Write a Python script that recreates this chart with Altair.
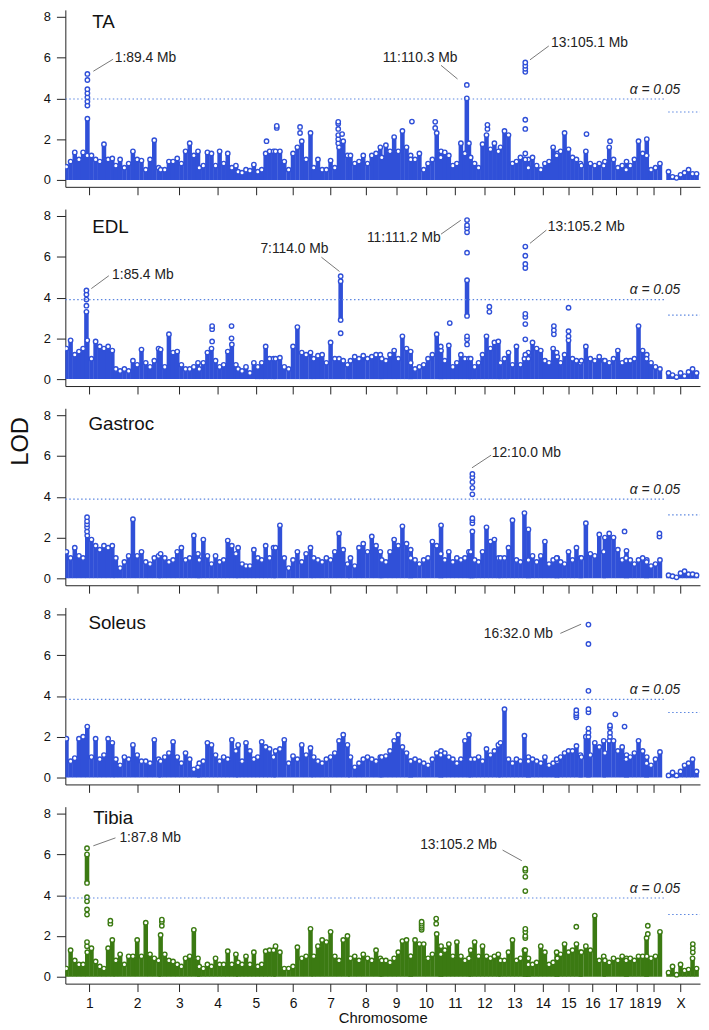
import altair as alt
import pandas as pd

# ---------------- genome layout ----------------
CHROMS = [str(i) for i in range(1, 20)] + ["X"]
CHROM_LEN_MB = [195, 182, 160, 157, 152, 150, 145, 129, 125, 131,
                122, 120, 121, 125, 104, 98, 95, 91, 61, 171]
CHROM_START = [1.5, 205.1, 389.6, 548.8, 708.9, 863.1, 1020.4, 1171.8, 1300.8, 1420.0,
               1543.9, 1667.1, 1790.0, 1904.9, 2021.3, 2123.3, 2220.1, 2307.7, 2391.9, 2449.3]
GENOME_END = 2615
EDGE_MB = 3   # first / last sampled position inside each chromosome

# ---------------- LOD profiles: one list per chromosome, sampled evenly along it ----------------
TA_LOD = [
    [0.65, 0.9, 1.35, 1.0, 1.35, 1.2, 1.2, 1.0, 0.9, 1.75, 1.0, 1.05],
    [0.7, 1.0, 0.6, 0.8, 1.4, 1.0, 0.95, 0.5, 1.0, 1.95, 0.6],
    [0.5, 0.5, 0.9, 0.9, 1.05, 0.8, 1.4, 1.8, 1.2, 1.4],
    [0.6, 0.7, 1.35, 1.3, 0.7, 1.4, 0.8, 1.3, 0.6, 0.7],
    [0.4, 0.35, 0.5, 0.45, 0.75, 0.4, 0.5, 1.3, 1.4, 1.4],
    [1.4, 1.4, 0.9, 0.5, 1.3, 1.6, 1.9, 1.0, 2.3],
    [0.6, 1.0, 0.5, 0.5, 0.95, 0.6, 1.6, 1.9, 1.2],
    [1.2, 0.8, 0.9, 1.2, 0.8, 1.2, 1.3, 1.6],
    [1.1, 1.7, 1.4, 2.1, 1.4, 2.4, 1.6, 1.2],
    [1.0, 1.0, 1.3, 0.5, 0.8, 1.0, 2.3, 1.4],
    [1.1, 1.35, 1.2, 0.7, 0.8, 1.8, 1.3, 1.8],
    [1.1, 0.8, 0.6, 1.75, 2.2, 1.5, 1.8, 1.4],
    [1.6, 2.4, 2.2, 0.8, 0.9, 1.1, 1.0, 1.0],
    [0.6, 1.1, 0.7, 0.5, 0.8, 0.9, 1.6, 1.3],
    [1.2, 1.4, 2.3, 1.5, 1.1, 1.0, 0.8],
    [0.7, 1.4, 0.8, 0.7, 0.8, 0.7],
    [0.9, 1.6, 1.0, 0.6, 0.7, 0.9],
    [0.5, 0.7, 1.0, 1.9, 1.3, 2.0],
    [1.2, 0.5, 0.6, 0.8],
    [None, None, 0.4, 0.15, 0.1, 0.25, 0.35, 0.5, 0.3, 0.3, None],
]
TA_DENSE = [("1", 89.4, 0.0, 3.0), ("11", 110.3, 0.0, 4.0), ("13", 105.1, 0.0, 1.0)]
TA_CIRCLES = [
    ("1", 89.4, [3.65, 3.85, 4.05, 4.25, 4.45, 4.9, 5.2]),
    ("5", 120, [1.9]), ("6", 8, [2.55, 2.65]), ("6", 104, [2.3, 2.6]),
    ("7", 104, [1.8, 2.0, 2.2, 2.5, 2.75, 2.85]), ("7", 120, [2.25]),
    ("10", 8, [2.86]), ("10", 104, [2.55, 2.85]),
    ("11", 110.3, [4.66]), ("12", 72, [2.5, 2.7]),
    ("13", 105.1, [1.3, 2.5, 2.95, 5.3, 5.45, 5.6, 5.76]),
    ("16", 24, [2.25]), ("17", 24, [1.9]),
]

EDL_LOD = [
    [1.5, 1.9, 1.2, 1.35, 1.5, 1.9, 1.0, 1.85, 1.6, 1.5, 1.6, 1.4],
    [0.5, 0.4, 0.5, 0.4, 0.9, 0.7, 1.45, 0.8, 0.6, 0.9, 1.5],
    [1.45, 0.6, 2.2, 1.3, 1.35, 0.7, 0.5, 0.5, 0.6, 0.8],
    [0.5, 0.8, 1.3, 1.5, 0.9, 0.6, 0.7, 1.35, 1.7, 0.7],
    [0.5, 0.4, 0.6, 0.3, 0.8, 0.6, 0.8, 1.6, 1.0, 1.0],
    [1.0, 1.05, 0.6, 0.5, 1.6, 2.55, 1.3, 1.2, 1.3],
    [1.0, 1.15, 1.2, 0.8, 1.8, 1.0, 1.0, 0.9, 0.7],
    [0.9, 1.1, 1.0, 1.15, 1.0, 1.1, 1.2, 1.2],
    [1.0, 0.9, 1.2, 1.4, 1.0, 2.1, 1.5, 1.35],
    [0.8, 0.5, 0.6, 0.7, 1.0, 1.2, 2.2, 1.4],
    [1.6, 0.9, 1.65, 0.6, 0.8, 1.2, 1.0, 1.0],
    [1.0, 0.6, 0.8, 1.2, 2.1, 1.5, 1.8, 1.85],
    [0.8, 1.0, 1.3, 0.7, 1.6, 0.7, 1.0, 1.3],
    [1.0, 1.8, 1.5, 1.4, 0.9, 0.8, 1.5, 1.1],
    [1.3, 0.8, 1.2, 1.9, 1.0, 0.9, 0.8],
    [0.9, 1.6, 1.0, 0.9, 1.1, 0.9],
    [0.9, 0.8, 1.0, 1.4, 0.8, 0.9],
    [0.9, 0.9, 1.0, 2.6, 1.4, 1.2],
    [1.0, 0.8, 0.6, 0.5],
    [None, None, 0.3, 0.2, 0.1, 0.3, 0.15, 0.35, 0.5, 0.3, 0.9],
]
EDL_DENSE = [("1", 85.4, 0.0, 3.3), ("7", 114.0, 2.9, 4.8), ("11", 111.2, 3.1, 4.85),
             ("13", 105.2, 0.0, 1.2)]
EDL_CIRCLES = [
    ("1", 85.4, [3.6, 3.9, 4.15, 4.35]),
    ("4", 56, [1.85, 2.45, 2.6]), ("4", 136, [2.0, 2.6]),
    ("7", 114.0, [2.25, 5.05]), ("11", 40, [2.75]),
    ("11", 111.2, [1.7, 1.95, 2.1, 6.2, 7.2, 7.4, 7.55, 7.8]),
    ("12", 80, [3.3, 3.55]),
    ("13", 105.2, [1.95, 2.7, 3.05, 3.2, 5.45, 5.65, 6.05, 6.5]),
    ("14", 108, [2.2, 2.4, 2.6]), ("15", 52, [2.1, 2.35, 3.5]),
]

GASTROC_LOD = [
    [1.3, 1.0, 1.5, 1.1, 1.0, 2.1, 1.9, 1.6, 1.4, 1.6, 1.5, 1.6],
    [1.0, 0.5, 0.8, 1.1, 2.9, 1.1, 1.3, 0.8, 0.7, 1.0, 1.1],
    [1.2, 1.0, 0.8, 0.9, 1.3, 1.5, 0.9, 1.0, 2.1, 1.2],
    [0.9, 1.9, 1.1, 0.7, 1.1, 0.8, 0.9, 1.85, 1.6, 1.2],
    [1.5, 0.7, 0.6, 0.6, 1.4, 1.0, 0.9, 1.6, 1.0, 1.5],
    [1.5, 2.6, 1.0, 0.5, 0.9, 1.3, 0.8, 1.2, 1.5],
    [1.0, 0.9, 0.8, 1.0, 0.9, 1.3, 2.2, 1.4, 0.7],
    [1.0, 0.6, 1.5, 1.7, 1.3, 2.05, 1.6, 1.3],
    [0.9, 0.8, 1.3, 1.9, 1.6, 2.55, 1.7, 1.0],
    [1.4, 0.9, 0.7, 0.9, 1.0, 1.8, 1.6, 2.6],
    [1.2, 0.9, 1.3, 0.8, 1.0, 0.9, 1.0, 1.3],
    [1.3, 0.9, 0.8, 1.3, 2.5, 1.8, 1.9, 1.0],
    [1.0, 1.0, 1.5, 2.85, 0.9, 0.8, 3.2, 2.4],
    [0.9, 1.1, 0.8, 1.1, 1.8, 0.7, 0.9, 1.0],
    [1.0, 0.8, 0.7, 1.3, 0.9, 1.5, 1.0],
    [1.0, 2.7, 1.2, 1.1, 2.15, 1.3],
    [2.0, 2.2, 2.0, 1.4, 0.9, 1.35],
    [1.0, 0.9, 0.7, 0.9, 1.0, 0.9],
    [0.8, 0.6, 0.7, 0.9],
    [None, None, 0.15, 0.1, 0.05, 0.25, 0.35, 0.2, 0.2, 0.15, 0.1],
]
GASTROC_DENSE = [("12", 10.0, 0.0, 2.3)]
GASTROC_CIRCLES = [
    ("1", 88, [2.3, 2.5, 2.65, 2.8, 3.0]),
    ("12", 10.0, [2.7, 2.85, 2.95, 4.12, 4.44, 4.72, 4.96, 5.12]),
    ("17", 84, [2.3]), ("19", 56, [2.05, 2.2]),
]

SOLEUS_LOD = [
    [1.9, 0.8, 0.95, 1.9, 2.0, 2.5, 1.0, 1.9, 0.9, 1.1, 1.9, 1.7],
    [0.9, 0.6, 1.0, 0.9, 1.6, 1.1, 0.8, 0.8, 0.7, 1.85, 0.9],
    [0.8, 1.0, 1.2, 1.75, 1.0, 0.7, 1.2, 0.9, 0.4, 0.5],
    [0.7, 0.8, 1.7, 1.6, 1.1, 0.8, 1.0, 0.9, 1.85, 1.3],
    [1.6, 0.8, 1.7, 1.3, 0.9, 1.0, 1.75, 1.5, 1.4, 1.0],
    [1.3, 1.4, 1.85, 0.7, 1.05, 0.9, 1.6, 1.1, 1.45],
    [1.0, 0.8, 0.7, 0.9, 1.0, 1.2, 1.8, 2.1, 1.6],
    [1.0, 0.5, 0.7, 0.9, 1.0, 0.9, 0.8, 1.0],
    [1.0, 1.05, 1.3, 1.8, 2.1, 1.5, 1.2, 0.8],
    [0.8, 0.9, 0.8, 0.7, 0.6, 0.9, 1.2, 1.3],
    [1.1, 1.2, 1.0, 0.9, 0.7, 0.9, 1.8, 2.1],
    [0.9, 0.9, 1.0, 0.8, 1.4, 1.1, 1.3, 1.6],
    [1.7, 3.35, 0.9, 0.7, 0.9, 0.8, 2.05, 1.0],
    [0.8, 0.9, 0.8, 0.7, 1.0, 0.6, 0.7, 0.8],
    [0.9, 1.0, 1.2, 1.3, 1.3, 1.55, 1.1],
    [1.0, 2.0, 1.1, 1.7, 1.5, 1.8],
    [1.2, 1.8, 1.8, 1.3, 1.5, 1.1],
    [0.9, 1.0, 1.2, 1.8, 1.3, 1.0],
    [0.7, 0.6, 0.9, 1.25],
    [None, None, 0.1, 0.25, 0.1, 0.3, 0.6, 0.7, 0.9, 0.3, 0.3],
]
SOLEUS_DENSE = [("16", 32.0, 0.0, 2.0)]
SOLEUS_CIRCLES = [
    ("15", 84, [2.95, 3.05, 3.15, 3.3]),
    ("16", 32.0, [2.2, 2.4, 3.2, 3.35, 4.25, 6.55, 7.5]),
    ("17", 24, [2.0, 2.2, 2.45, 2.55]), ("17", 46, [3.1]), ("17", 84, [2.5]),
]

TIBIA_LOD = [
    [0.4, 1.3, 0.8, 0.6, 0.6, 1.2, 1.4, 0.75, 0.5, 0.4, 1.4, 1.8],
    [0.8, 1.1, 0.6, 1.0, 1.0, 1.8, 1.0, 2.65, 1.1, 0.9, 0.8],
    [2.05, 1.1, 0.8, 0.75, 0.6, 0.5, 0.9, 1.0, 2.3, 0.9],
    [0.5, 0.4, 0.6, 0.5, 0.9, 0.6, 0.6, 1.25, 0.6, 1.1],
    [0.7, 0.6, 1.0, 0.6, 1.2, 0.5, 0.6, 1.25, 1.3, 1.3],
    [1.5, 1.2, 0.4, 0.4, 0.5, 1.45, 0.9, 1.0, 2.35],
    [1.0, 1.5, 1.8, 1.7, 2.2, 1.0, 0.8, 1.8, 2.0],
    [0.9, 1.0, 0.8, 1.1, 0.9, 0.8, 1.3, 0.9],
    [0.8, 0.8, 0.7, 0.9, 1.2, 1.75, 1.8, 1.0],
    [1.0, 1.8, 1.6, 1.6, 0.9, 1.1, 2.1, 1.5],
    [1.1, 1.3, 1.6, 1.0, 1.7, 1.0, 0.8, 0.9],
    [1.3, 1.7, 1.0, 1.5, 1.0, 0.9, 1.0, 1.1],
    [0.8, 0.8, 1.2, 1.8, 0.8, 0.9, 1.3, 0.9],
    [0.6, 0.6, 0.7, 1.5, 1.2, 0.6, 0.7, 0.9],
    [1.2, 1.1, 1.6, 1.2, 1.3, 1.6, 1.2],
    [1.2, 1.5, 1.3, 3.0, 0.8, 1.0],
    [0.8, 0.7, 0.9, 0.8, 1.0, 0.9],
    [0.8, 0.9, 0.8, 1.0, 1.0, 1.0],
    [1.9, 0.9, 1.0, 2.2],
    [None, None, 0.2, 0.5, 0.1, 0.6, 0.3, 0.35, 0.9, 0.4, 0.25],
]
TIBIA_DENSE = [("1", 87.8, 4.6, 6.0), ("13", 105.2, 0.0, 1.3)]
TIBIA_CIRCLES = [
    ("1", 87.8, [1.5, 1.7, 3.05, 3.3, 3.7, 3.9, 6.3]),
    ("1", 184, [2.6, 2.75]), ("3", 8, [2.5, 2.7, 2.8]),
    ("10", 48, [2.3, 2.4, 2.5, 2.6, 2.7]), ("10", 108, [2.6, 2.85]),
    ("13", 105.2, [1.9, 2.0, 2.2, 2.35, 4.2, 4.9, 5.2, 5.3]),
    ("15", 84, [2.45]), ("19", 8, [2.1, 2.5]), ("X", 136, [1.2, 1.4, 1.6]),
]

# thresholds (alpha = 0.05): autosomes, X
THRESHOLDS = {"TA": (3.97, 3.33), "EDL": (3.9, 3.14), "Gastroc": (3.88, 3.11),
              "Soleus": (3.83, 3.19), "Tibia": (3.86, 3.05)}

# peak annotations: text, align, text anchor (genome coord, LOD), leader line
LABELS = {
    "TA": [("1:89.4 Mb", "left", 203.7, 6.0, (115.3, 5.33, 196.7, 5.92)),
           ("11:110.3 Mb", "right", 1615.9, 6.0, (1547.9, 5.62, 1615.9, 4.95)),
           ("13:105.1 Mb", "left", 2001.2, 6.73, (1914.5, 5.89, 1991.9, 6.57))],
    "EDL": [("1:85.4 Mb", "left", 192.7, 5.09, (107.1, 4.44, 179.2, 5.07)),
            ("7:114.0 Mb", "left", 803.7, 6.38, (1055.0, 5.98, 1129.5, 5.28)),
            ("11:111.2 Mb", "right", 1546.6, 6.9, (1547.9, 7.11, 1629.3, 7.79)),
            ("13:105.2 Mb", "left", 1987.8, 7.47, (1914.5, 6.66, 1982.0, 7.31))],
    "Gastroc": [("12:10.0 Mb", "left", 1756.8, 6.15, (1675.4, 5.42, 1754.4, 6.04))],
    "Soleus": [("16:32.0 Mb", "right", 2009.4, 7.02, (2039.5, 7.07, 2125.0, 7.52))],
    "Tibia": [("1:87.8 Mb", "left", 222.8, 6.78, (115.3, 6.42, 206.5, 6.81)),
              ("13:105.2 Mb", "right", 1778.8, 6.46, (1801.6, 6.21, 1880.7, 5.69))],
}
TITLE_POS = {"TA": (111, 7.75), "EDL": (111, 7.45), "Gastroc": (95, 7.56),
             "Soleus": (95, 7.56), "Tibia": (115, 7.79)}
ALPHA_U = 2533.6

BLUE = "#3050d8"
GREEN = "#3b7a12"
PANELS = [("TA", TA_LOD, TA_DENSE, TA_CIRCLES, BLUE),
          ("EDL", EDL_LOD, EDL_DENSE, EDL_CIRCLES, BLUE),
          ("Gastroc", GASTROC_LOD, GASTROC_DENSE, GASTROC_CIRCLES, BLUE),
          ("Soleus", SOLEUS_LOD, SOLEUS_DENSE, SOLEUS_CIRCLES, BLUE),
          ("Tibia", TIBIA_LOD, TIBIA_DENSE, TIBIA_CIRCLES, GREEN)]

FONT = "Liberation Sans"
CENTERS = [round(s + l / 2.0, 1) for s, l in zip(CHROM_START, CHROM_LEN_MB)]
LABEL_EXPR = "[" + ",".join("'%s'" % c for c in CHROMS) + "][indexof([" + \
    ",".join(repr(c) for c in CENTERS) + "], datum.value)]"

xscale = alt.Scale(domain=[0, GENOME_END], nice=False, zero=False)
yscale = alt.Scale(domain=[-0.34, 8.34], nice=False, zero=False)


def gpos(ch, mb):
    return CHROM_START[CHROMS.index(str(ch))] + mb


def frames(lod_lists, dense, circles):
    cols, pts = [], []
    for ci, vals in enumerate(lod_lists):
        n = len(vals)
        step = (CHROM_LEN_MB[ci] - 2 * EDGE_MB) / (n - 1)
        for k, v in enumerate(vals):
            if v is None:
                continue
            u = CHROM_START[ci] + EDGE_MB + step * k
            if u > GENOME_END:
                continue
            cols.append({"u": u, "lo": 0.0, "hi": v})
            pts.append({"u": u, "lod": v})
    for ch, mb, lo, hi in dense:
        u = gpos(ch, mb)
        cols.append({"u": u, "lo": lo, "hi": hi})
        pts.append({"u": u, "lod": hi})
        if lo > 0:
            pts.append({"u": u, "lod": lo})
    for ch, mb, lods in circles:
        for v in lods:
            pts.append({"u": gpos(ch, mb), "lod": v})
    return pd.DataFrame(cols), pd.DataFrame(pts)


def make_panel(idx, name, lod_lists, dense, circles, color):
    last = idx == len(PANELS) - 1
    xaxis_kw = dict(values=CENTERS, grid=False, tickSize=8, domainColor="#222",
                    tickColor="#222", labelOverlap=False, labelFlush=False)
    if last:
        xaxis = alt.Axis(labels=True, labelExpr=LABEL_EXPR, labelFontSize=14,
                         labelFont=FONT, labelColor="#111", labelPadding=5,
                         title="Chromosome", titleFont=FONT, titleFontSize=15,
                         titleFontWeight="normal", titleColor="#111", titlePadding=0,
                         **xaxis_kw)
    else:
        xaxis = alt.Axis(labels=False, title=None, **xaxis_kw)
    yaxis_kw = dict(values=[0, 2, 4, 6, 8], grid=False, tickSize=9, labelFontSize=13,
                    labelFont=FONT, labelColor="#111", labelPadding=6,
                    domainColor="#222", tickColor="#222")
    if name == "Gastroc":
        yaxis = alt.Axis(title="LOD", titleFont=FONT, titleFontSize=24,
                         titleFontWeight="normal", titleColor="#111", titleX=-45,
                         titleY=33, titleBaseline="middle", titleAlign="center",
                         titleAngle=270, **yaxis_kw)
    else:
        yaxis = alt.Axis(title=None, **yaxis_kw)

    def X(f):
        return alt.X(f, type="quantitative", scale=xscale, axis=xaxis)

    def Y(f):
        return alt.Y(f, type="quantitative", scale=yscale, axis=yaxis)

    cols, pts = frames(lod_lists, dense, circles)
    rules = alt.Chart(cols).mark_rule(strokeWidth=4.6, color=color, strokeCap="butt",
                                      clip=True).encode(
        x=X("u"), y=Y("lo"), y2=alt.Y2("hi"))
    dots = alt.Chart(pts).mark_point(shape="circle", filled=True, fill="white",
                                     stroke=color, strokeWidth=1.4, size=20, opacity=1,
                                     clip=True).encode(x=X("u"), y=Y("lod"))
    ta, tx = THRESHOLDS[name]
    thr_df = pd.DataFrame({"x": [0, 2484], "x2": [2475, GENOME_END], "y": [ta, tx]})
    thr = alt.Chart(thr_df).mark_rule(color="#5b86e0", strokeWidth=1.2,
                                      strokeDash=[1.5, 2.5]).encode(
        x=X("x"), x2=alt.X2("x2"), y=Y("y"))
    alpha_df = pd.DataFrame({"u": [ALPHA_U], "lod": [ta + 0.45], "t": ["\u03b1 = 0.05"]})
    alpha = alt.Chart(alpha_df).mark_text(align="right", baseline="middle", font=FONT,
                                          fontSize=14, fontStyle="italic",
                                          color="#222").encode(
        x=X("u"), y=Y("lod"), text="t:N")
    labs = LABELS[name]
    lead_df = pd.DataFrame([{"x": l[4][0], "y": l[4][1], "x2": l[4][2], "y2": l[4][3]}
                            for l in labs])
    leaders = alt.Chart(lead_df).mark_rule(color="#555555", strokeWidth=0.8).encode(
        x=X("x"), y=Y("y"), x2=alt.X2("x2"), y2=alt.Y2("y2"))
    layers = [rules, dots, thr, alpha, leaders]
    for al in ("left", "right"):
        sub = [l for l in labs if l[1] == al]
        if sub:
            df = pd.DataFrame({"u": [l[2] for l in sub], "lod": [l[3] for l in sub],
                               "t": [l[0] for l in sub]})
            layers.append(alt.Chart(df).mark_text(align=al, baseline="middle",
                                                  font=FONT, fontSize=14,
                                                  color="#222").encode(
                x=X("u"), y=Y("lod"), text="t:N"))
    tu, tl = TITLE_POS[name]
    title_df = pd.DataFrame({"u": [tu], "lod": [tl], "t": [name]})
    layers.append(alt.Chart(title_df).mark_text(align="left", baseline="middle",
                                                font=FONT, fontSize=19,
                                                color="#111").encode(
        x=X("u"), y=Y("lod"), text="t:N"))
    return alt.layer(*layers).properties(width=642, height=179)


panels = [make_panel(i, *p) for i, p in enumerate(PANELS)]
chart = alt.vconcat(*panels, spacing=13.5).properties(
    padding={"left": 1, "top": -4, "right": 0, "bottom": 0}
).configure_view(stroke=None)

chart.save("out.html", embed_options={"renderer": "svg", "actions": False})
